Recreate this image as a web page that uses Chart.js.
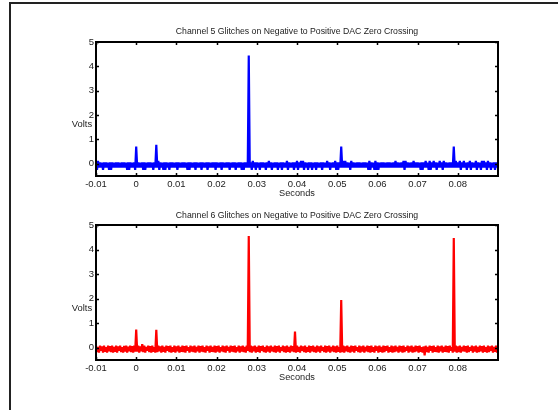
<!DOCTYPE html>
<html>
<head>
<meta charset="utf-8">
<script src="https://cdn.jsdelivr.net/npm/chart.js@4.4.1/dist/chart.umd.min.js"></script>
<style>
  html,body{margin:0;padding:0;background:#fff;width:558px;height:410px;overflow:hidden;position:relative;font-family:"Liberation Sans",Arial,sans-serif;}
  .frame{position:absolute;left:9px;top:2px;width:600px;height:450px;border-left:2px solid #222;border-top:2px solid #222;}
  .cv{position:absolute;left:0;}
  .txt{position:absolute;transform:translate(-50%,-50%);white-space:nowrap;color:#222;}
</style>
</head>
<body>
<div class="frame"></div>
<canvas id="c1" class="cv" width="558" height="200" style="top:0px"></canvas>
<canvas id="c2" class="cv" width="558" height="220" style="top:190px"></canvas>
<div class="txt" style="left:297px;top:31px;font-size:8.7px">Channel 5 Glitches on Negative to Positive DAC Zero Crossing</div>
<div class="txt" style="left:82px;top:123px;font-size:9.4px">Volts</div>
<div class="txt" style="left:297px;top:193px;font-size:9.2px">Seconds</div>
<div class="txt" style="left:297px;top:215px;font-size:8.7px">Channel 6 Glitches on Negative to Positive DAC Zero Crossing</div>
<div class="txt" style="left:82px;top:307px;font-size:9.4px">Volts</div>
<div class="txt" style="left:297px;top:377px;font-size:9.2px">Seconds</div>
<script>
// sample clock of the recording
const T0 = -0.01;
const DT = 0.00025;

// Channel 5 (volts), one value per sample, 40 samples (0.01 s) per row
const ch5Volts = [
 .06,-.25,.12,-.15,.06,-.15,.05,-.25,.06,-.15,.06,-.15,.05,-.25,.06,-.25,.06,-.15,.05,-.15,.06,-.15,.06,-.15,.05,-.15,.06,-.15,.06,-.15,.05,-.25,.06,-.25,.06,-.15,.05,-.15,.06,-.25,
 .71,-.15,.06,-.15,.05,-.15,.06,-.25,.06,-.25,.05,-.15,.06,-.15,.06,-.15,.05,-.25,.06,-.15,.78,-.15,.12,-.25,.06,-.15,.05,-.25,.06,-.25,.06,-.15,.05,-.25,.06,-.15,.06,-.15,.05,-.15,
 .06,-.25,.06,-.15,.05,-.15,.06,-.15,.06,-.15,.05,-.25,.06,-.25,.06,-.15,.05,-.15,.06,-.25,.06,-.15,.05,-.15,.06,-.25,.06,-.15,.05,-.15,.06,-.25,.06,-.15,.05,-.15,.06,-.15,.06,-.25,
 .06,-.15,.05,-.15,.06,-.25,.06,-.15,.05,-.15,.06,-.15,.06,-.25,.05,-.15,.06,-.15,.06,-.25,.05,-.15,.06,-.15,.06,-.25,.05,-.25,.06,-.15,.06,-.15,4.45,-.15,.06,-.25,.12,-.15,.06,-.25,
 .06,-.15,.05,-.25,.06,-.15,.06,-.15,.05,-.25,.06,-.15,.12,-.15,.06,-.25,.05,-.15,.06,-.15,.06,-.25,.05,-.15,.06,-.25,.06,-.15,.05,-.15,.12,-.25,.06,-.15,.05,-.15,.06,-.25,.06,-.15,
 .12,-.25,.06,-.15,.12,-.15,.12,-.25,.06,-.15,.05,-.25,.06,-.15,.06,-.25,.05,-.15,.06,-.25,.06,-.15,.05,-.15,.06,-.25,.06,-.15,.05,-.15,.12,-.15,.06,-.25,.05,-.15,.06,-.15,.12,-.25,
 .06,-.25,.06,-.15,.71,-.15,.12,-.15,.12,-.15,.06,-.15,.05,-.25,.12,-.15,.06,-.15,.05,-.15,.06,-.15,.06,-.15,.05,-.15,.06,-.15,.06,-.15,.05,-.25,.12,-.25,.06,-.15,.05,-.25,.12,-.25,
 .06,-.25,.05,-.15,.06,-.15,.06,-.15,.05,-.15,.06,-.15,.06,-.15,.05,-.15,.06,-.15,.12,-.15,.06,-.15,.05,-.15,.06,-.15,.12,-.25,.12,-.15,.06,-.15,.05,-.15,.06,-.15,.12,-.15,.06,-.15,
 .06,-.15,.05,-.25,.06,-.25,.06,-.15,.12,-.15,.05,-.25,.12,-.25,.06,-.15,.12,-.15,.06,-.25,.05,-.15,.12,-.15,.06,-.25,.12,-.15,.06,-.15,.05,-.15,.06,-.15,.06,-.15,.71,-.15,.12,-.15,
 .06,-.15,.12,-.25,.06,-.15,.12,-.15,.05,-.25,.06,-.15,.12,-.25,.06,-.15,.05,-.15,.12,-.25,.06,-.15,.05,-.25,.12,-.15,.12,-.15,.06,-.25,.12,-.15,.06,-.25,.05,-.15,.06,-.25,.06,-.15,
 .06
];

// Channel 6 (volts), one value per sample, 40 samples (0.01 s) per row
const ch6Volts = [
 .08,-.18,.03,-.2,.08,-.12,.05,-.2,.08,-.16,.02,-.2,.08,-.14,.06,-.18,.08,-.2,.03,-.16,.08,-.2,.05,-.12,.08,-.18,.02,-.2,.07,-.16,.08,-.2,.04,-.14,.08,-.18,.06,-.2,.08,-.16,
 .74,-.16,.08,-.2,.05,-.14,.15,-.18,.08,-.2,.03,-.12,.08,-.18,.06,-.2,.08,-.16,.02,-.2,.73,-.18,.08,-.14,.05,-.2,.08,-.16,.03,-.2,.08,-.12,.06,-.18,.08,-.2,.02,-.16,.08,-.2,
 .05,-.14,.08,-.2,.03,-.16,.08,-.18,.06,-.2,.08,-.12,.02,-.2,.08,-.16,.05,-.18,.08,-.2,.03,-.14,.08,-.2,.06,-.16,.08,-.18,.02,-.2,.08,-.12,.05,-.2,.08,-.16,.03,-.18,.08,-.2,
 .06,-.16,.08,-.2,.02,-.14,.08,-.18,.05,-.2,.08,-.12,.03,-.2,.08,-.16,.06,-.18,.08,-.2,.02,-.14,.08,-.2,.05,-.16,.08,-.18,.03,-.2,.08,-.12,4.55,-.18,.08,-.2,.05,-.14,.08,-.2,
 .03,-.16,.08,-.2,.06,-.12,.08,-.18,.02,-.2,.08,-.16,.05,-.2,.08,-.14,.03,-.18,.08,-.2,.06,-.16,.08,-.2,.02,-.12,.08,-.18,.05,-.2,.08,-.16,.03,-.2,.08,-.14,.06,-.18,.66,-.2,
 .08,-.16,.03,-.2,.08,-.12,.05,-.18,.08,-.2,.02,-.16,.08,-.2,.06,-.14,.08,-.18,.03,-.2,.08,-.16,.05,-.2,.08,-.12,.02,-.18,.08,-.2,.06,-.16,.08,-.2,.03,-.14,.08,-.18,.05,-.2,
 .08,-.16,.02,-.2,1.94,-.18,.08,-.2,.05,-.14,.08,-.18,.03,-.2,.08,-.16,.06,-.2,.08,-.12,.02,-.18,.08,-.2,.05,-.16,.08,-.2,.03,-.14,.08,-.18,.06,-.2,.08,-.16,.02,-.2,.08,-.12,
 .05,-.2,.08,-.16,.03,-.2,.08,-.18,.06,-.12,.08,-.2,.02,-.16,.08,-.2,.05,-.18,.08,-.14,.03,-.2,.08,-.16,.06,-.2,.08,-.18,.02,-.12,.08,-.2,.05,-.16,.08,-.2,.03,-.18,.08,-.14,
 .06,-.2,.08,-.16,.02,-.2,.05,-.31,.08,-.18,.03,-.2,.08,-.12,.06,-.2,.08,-.16,.02,-.18,.08,-.2,.05,-.14,.08,-.2,.03,-.16,.08,-.18,.06,-.2,.08,-.12,.02,-.2,4.47,-.16,.08,-.2,
 .05,-.18,.08,-.2,.03,-.14,.08,-.16,.06,-.2,.08,-.18,.02,-.12,.08,-.2,.05,-.16,.08,-.2,.03,-.18,.08,-.14,.06,-.2,.08,-.16,.02,-.2,.08,-.18,.05,-.12,.08,-.2,.03,-.16,.08,-.2,
 .08
];

const xTickValues = [-0.01,0,0.01,0.02,0.03,0.04,0.05,0.06,0.07,0.08];
const xTickLabels = ['-0.01','0','0.01','0.02','0.03','0.04','0.05','0.06','0.07','0.08'];
const yTickValues = [0,1,2,3,4,5];
const yTickLabels = ['0','1','2','3','4','5'];

const boxPlugin = {
  id:'matlabBox',
  afterDatasetsDraw(chart){
    const ctx = chart.ctx, a = chart.chartArea, sx = chart.scales.x, sy = chart.scales.y;
    ctx.save();
    ctx.strokeStyle = '#000';
    ctx.lineWidth = 2;
    ctx.strokeRect(a.left, a.top, a.right - a.left, a.bottom - a.top);
    ctx.lineWidth = 1.5;
    const L = 3;
    ctx.beginPath();
    xTickValues.forEach(v => {
      const px = Math.round(sx.getPixelForValue(v)) + 0.5;
      ctx.moveTo(px, a.bottom); ctx.lineTo(px, a.bottom - L);
      ctx.moveTo(px, a.top); ctx.lineTo(px, a.top + L);
    });
    yTickValues.forEach(v => {
      const py = Math.round(sy.getPixelForValue(v)) + 0.5;
      ctx.moveTo(a.left, py); ctx.lineTo(a.left + L, py);
      ctx.moveTo(a.right, py); ctx.lineTo(a.right - L, py);
    });
    ctx.stroke();
    ctx.restore();
  }
};

function makeChart(id, volts, color, padTop, padBottom){
  return new Chart(document.getElementById(id), {
    type:'line',
    data:{datasets:[{
      data: volts.map((v,i) => ({x: T0 + i*DT, y: v})),
      borderColor: color, borderWidth: 2.2, pointRadius: 0, tension: 0, fill: false,
      borderJoinStyle: 'bevel'
    }]},
    options:{
      responsive:false, animation:false, events:[],
      layout:{padding:{left:0, right:60, top:padTop, bottom:padBottom}},
      plugins:{legend:{display:false}, tooltip:{enabled:false}, title:{display:false}},
      scales:{
        x:{
          type:'linear', min:-0.01, max:0.09,
          grid:{display:false, drawTicks:false}, border:{display:false},
          afterBuildTicks: s => { s.ticks = xTickValues.map(v => ({value:v})); },
          afterFit: s => { s.height = 20; },
          ticks:{autoSkip:false, maxRotation:0, minRotation:0, padding:3, color:'#222',
                 font:{family:'Liberation Sans', size:9.5},
                 callback:(v,i) => xTickLabels[i]}
        },
        y:{
          type:'linear', min:-0.5, max:5,
          grid:{display:false, drawTicks:false}, border:{display:false},
          afterBuildTicks: s => { s.ticks = yTickValues.map(v => ({value:v})); },
          afterFit: s => { s.width = 96; },
          ticks:{autoSkip:false, padding:2, color:'#222',
                 font:{family:'Liberation Sans', size:9.5},
                 callback:(v,i) => yTickLabels[i]}
        }
      }
    },
    plugins:[boxPlugin]
  });
}

makeChart('c1', ch5Volts, '#0000ff', 42, 4);
makeChart('c2', ch6Volts, '#ff0000', 35, 30);
</script>
</body>
</html>
